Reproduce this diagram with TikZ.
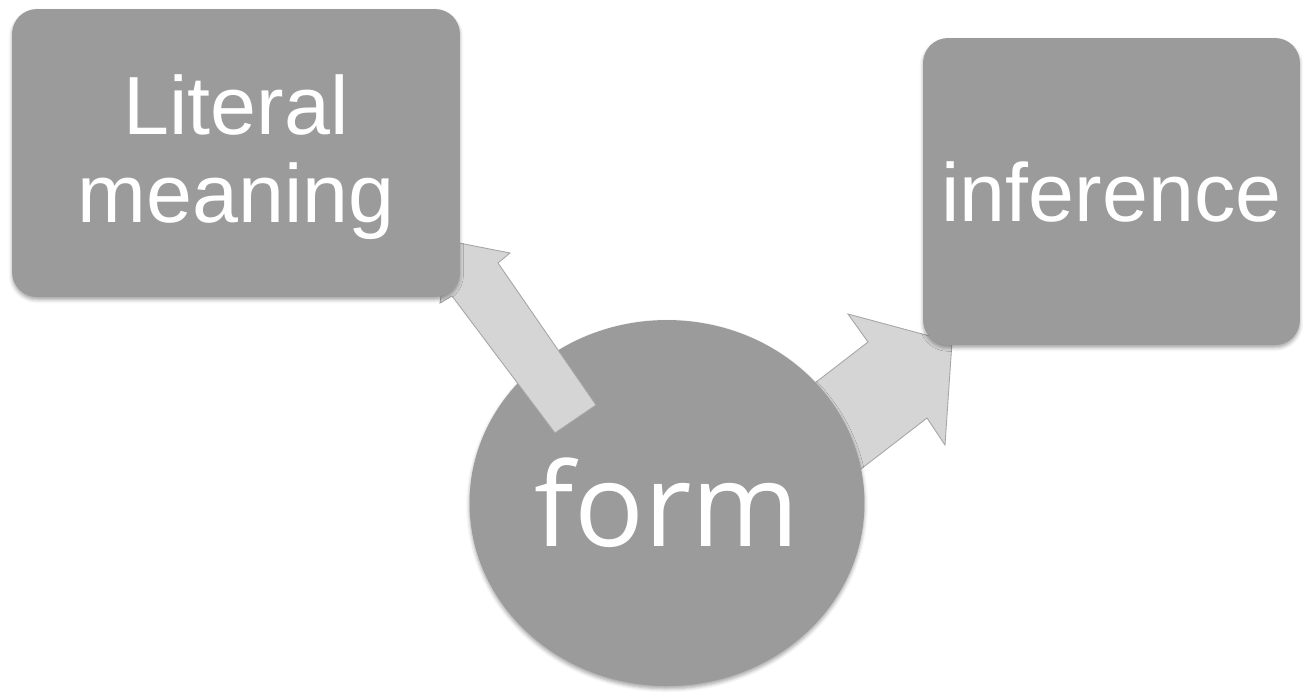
\documentclass[tikz,border=0pt]{standalone}
\usepackage{fontspec}
\setmainfont{Liberation Sans}
\newfontfamily\formfont{Open Sans}
\usetikzlibrary{shapes.geometric,shadows.blur}

\definecolor{shapegray}{HTML}{9B9B9B}
\definecolor{arrowfill}{HTML}{D5D5D5}
\definecolor{arrowedge}{HTML}{A6A6A6}

\tikzset{
  softshadow/.style={blur shadow={shadow xshift=0pt, shadow yshift=-1.6pt,
      shadow blur radius=2pt, shadow opacity=35}},
  conceptbox/.style={rectangle, rounded corners=0.5cm, fill=shapegray,
      text=white, align=center, inner sep=0pt, softshadow,
      font=\fontsize{47pt}{50pt}\selectfont},
  hub/.style={ellipse, fill=shapegray, text=white, inner sep=0pt,
      minimum width=7.9cm, minimum height=7.32cm, softshadow,
      font=\formfont\fontsize{66pt}{70pt}\selectfont},
  blockarrow/.style={fill=arrowfill, draw=arrowedge, line width=0.5pt,
      line join=miter}
}

\begin{document}
\begin{tikzpicture}[x=0.02cm, y=-0.02cm]
  \useasboundingbox (0,0) rectangle (1303,694);

  % outline points of the two block arrows
  \coordinate (rt1) at (789,403);
  \coordinate (rn1) at (868,342);
  \coordinate (rb1) at (848,314);
  \coordinate (rtip) at (952,342);
  \coordinate (rb2) at (945,445);
  \coordinate (rn2) at (927,418);
  \coordinate (rt2) at (848,479);

  \coordinate (lt1) at (555,433);
  \coordinate (ln1) at (452,296);
  \coordinate (lb1) at (440,303);
  \coordinate (ltip) at (449,241);
  \coordinate (lb2) at (510,253);
  \coordinate (ln2) at (498,263);
  \coordinate (lt2) at (596,405);

  % arrow towards "inference" sits beneath the hub
  \draw[blockarrow] (rt1) -- (rn1) -- (rb1) -- (rtip) -- (rb2) -- (rn2) -- (rt2) -- cycle;

  % hub
  \node[hub] (form) at (667,503) {form};

  % arrow towards "Literal meaning" lies over the hub
  \draw[blockarrow] (lt1) -- (ln1) -- (lb1) -- (ltip) -- (lb2) -- (ln2) -- (lt2) -- cycle;

  % concept boxes
  \node[conceptbox, minimum width=8.96cm, minimum height=5.76cm]
    (literal) at (236,153) {};
  \node[text=white, align=center, inner sep=0pt,
        font=\fontsize{47pt}{50pt}\selectfont]
    (literaltext) at (236,157) {Literal\\meaning};
  \node[conceptbox, minimum width=7.54cm, minimum height=6.14cm]
    (inference) at (1111.5,191.5) {inference};
\end{tikzpicture}
\end{document}
